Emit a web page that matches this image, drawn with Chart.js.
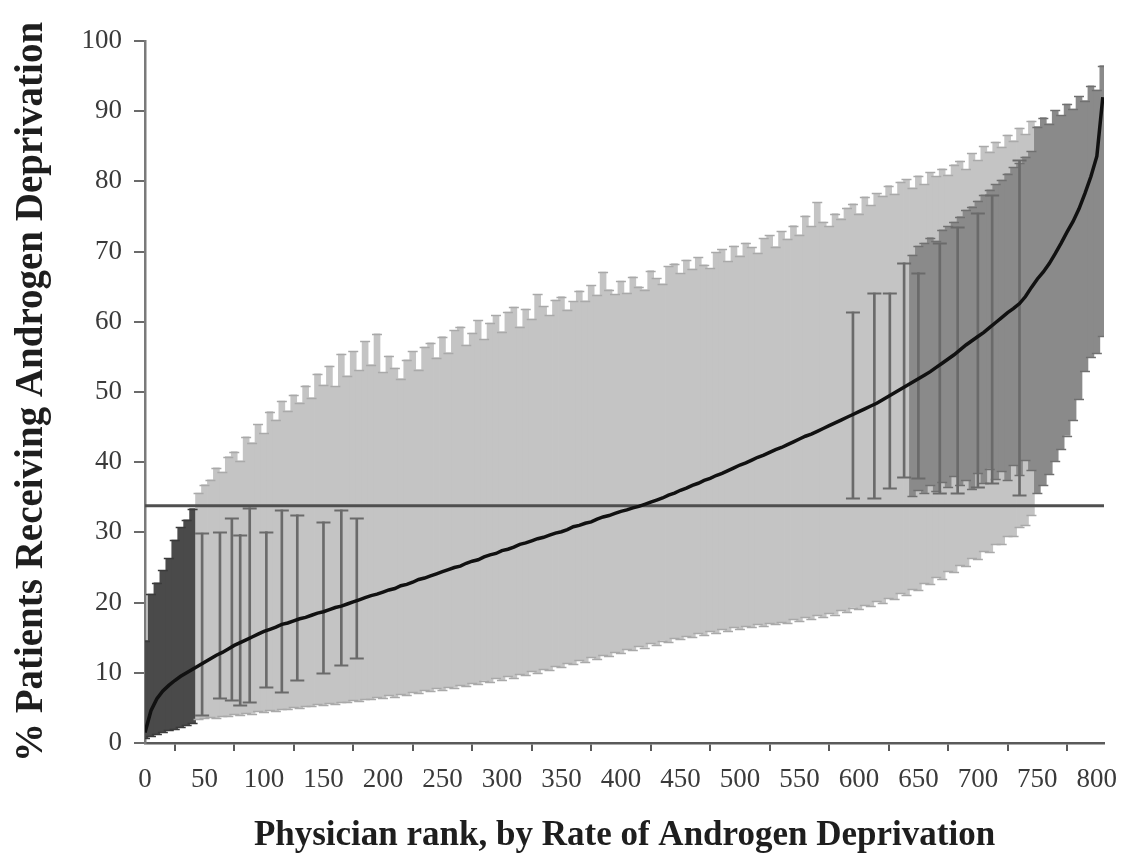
<!DOCTYPE html>
<html>
<head>
  <title>Physician rank by rate of androgen deprivation</title>
  <script src="https://cdn.jsdelivr.net/npm/chart.js"></script>
  <style>
    body { margin: 0; background: #fff; }
    #wrap { width: 1134px; height: 865px; }
  </style>
</head>
<body>
  <div id="wrap"><canvas id="chart" width="1134" height="865"></canvas></div>

  <script>
    // every 5th physician, rank 0..805
    const rankStep = 5;

    const estimate = [
      1.5, 4.6, 6.3, 7.4, 8.2, 8.9, 9.5, 10.0, 10.5, 11.0,
      11.5, 12.0, 12.5, 12.9, 13.4, 13.9, 14.3, 14.7, 15.1, 15.5,
      15.9, 16.2, 16.5, 16.9, 17.1, 17.4, 17.7, 17.9, 18.2, 18.5,
      18.7, 19.0, 19.3, 19.5, 19.8, 20.1, 20.4, 20.7, 21.0, 21.2,
      21.5, 21.8, 22.0, 22.4, 22.6, 22.9, 23.3, 23.5, 23.8, 24.1,
      24.4, 24.7, 25.0, 25.2, 25.6, 25.9, 26.1, 26.5, 26.8, 27.0,
      27.4, 27.6, 27.9, 28.3, 28.5, 28.8, 29.1, 29.3, 29.6, 29.9,
      30.1, 30.4, 30.8, 31.0, 31.3, 31.5, 31.9, 32.2, 32.4, 32.7,
      33.0, 33.2, 33.5, 33.7, 34.0, 34.3, 34.6, 34.9, 35.3, 35.6,
      36.0, 36.3, 36.7, 37.0, 37.4, 37.7, 38.1, 38.4, 38.8, 39.2,
      39.6, 39.9, 40.3, 40.7, 41.0, 41.4, 41.8, 42.1, 42.5, 42.9,
      43.3, 43.7, 44.0, 44.4, 44.8, 45.2, 45.6, 46.0, 46.4, 46.8,
      47.2, 47.6, 48.0, 48.4, 48.9, 49.4, 49.9, 50.4, 50.9, 51.4,
      51.9, 52.4, 52.9, 53.5, 54.1, 54.7, 55.3, 56.0, 56.7, 57.3,
      57.9, 58.5, 59.2, 59.9, 60.6, 61.3, 61.9, 62.6, 63.6, 64.9,
      66.1, 67.1, 68.3, 69.7, 71.2, 72.8, 74.3, 76.1, 78.3, 80.7,
      83.6, 92.0
    ];

    const lower = [
      0.7, 1.0, 1.3, 1.5, 1.8, 2.0, 2.3, 2.5, 2.8, 3.4,
      3.5, 3.7, 3.6, 3.9, 3.8, 4.1, 4.0, 4.3, 4.2, 4.5,
      4.4, 4.7, 4.6, 4.9, 4.8, 5.1, 5.0, 5.3, 5.2, 5.5,
      5.4, 5.7, 5.6, 5.9, 5.8, 6.1, 6.0, 6.3, 6.2, 6.5,
      6.4, 6.8, 6.6, 7.0, 6.9, 7.3, 7.1, 7.5, 7.4, 7.8,
      7.6, 8.0, 7.9, 8.3, 8.1, 8.6, 8.4, 8.9, 8.7, 9.2,
      9.0, 9.5, 9.3, 9.8, 9.7, 10.2, 10.0, 10.6, 10.4, 11.0,
      10.8, 11.4, 11.2, 11.8, 11.6, 12.2, 12.0, 12.6, 12.4, 13.0,
      12.8, 13.4, 13.2, 13.8, 13.6, 14.2, 14.0, 14.6, 14.4, 15.0,
      14.8, 15.3, 15.1, 15.6, 15.4, 15.9, 15.7, 16.2, 16.0, 16.5,
      16.3, 16.7, 16.5, 16.9, 16.7, 17.1, 16.9, 17.3, 17.1, 17.6,
      17.4, 17.9, 17.7, 18.2, 18.0, 18.5, 18.3, 18.9, 18.7, 19.3,
      19.1, 19.7, 19.5, 20.2, 20.0, 20.7, 20.5, 21.3, 21.1, 22.0,
      21.8, 22.8, 22.6, 23.6, 23.4, 24.5, 24.3, 25.4, 25.2, 26.3,
      26.2, 27.3, 27.2, 28.4, 28.3, 29.5, 29.5, 30.8, 31.0, 32.5,
      35.6, 36.8, 38.3, 40.1, 41.9, 43.8, 46.0, 49.0, 53.0, 55.0,
      55.5, 58.0
    ];

    const upper = [
      14.6, 21.2, 22.8, 24.6, 26.3, 28.9, 30.7, 31.8, 33.4, 35.6,
      36.8, 37.5, 39.2, 38.6, 40.8, 41.5, 40.2, 43.6, 42.8, 45.4,
      44.1, 47.2, 46.0, 48.7, 47.3, 49.6, 48.5, 50.9, 49.2, 52.6,
      51.0, 53.7, 50.8, 55.4, 52.3, 55.8, 53.1, 57.2, 53.9, 58.3,
      52.8, 55.1, 53.4, 51.9, 54.6, 55.8, 53.2, 56.4, 57.0, 54.9,
      57.9, 55.6, 58.8, 59.3, 56.7, 58.4, 60.2, 57.5, 59.8, 60.9,
      58.6, 61.4, 62.1, 59.3, 61.8, 60.4, 63.9, 62.2, 60.9, 63.1,
      63.6, 61.7, 62.9, 64.4, 63.0, 65.2, 63.8, 67.1, 64.6, 63.9,
      65.8, 64.1, 66.4, 65.0, 64.6, 67.3, 66.2, 65.4, 67.9, 68.3,
      66.9, 68.8, 67.5, 69.2, 68.1, 67.6, 69.9, 70.3, 68.6, 70.8,
      69.4, 71.2, 70.6, 69.8, 71.9, 72.3, 70.7, 72.9, 71.8, 73.7,
      72.4, 75.1, 73.6, 77.0, 74.2, 73.6, 75.4, 74.7, 76.2, 76.8,
      75.4, 77.8, 76.6, 78.3, 77.9, 79.4, 78.2, 79.9, 80.3, 79.1,
      80.8, 79.6, 81.3, 80.7, 81.8, 80.9, 82.4, 82.9, 81.7, 84.0,
      83.0, 85.0, 84.2, 85.6, 84.9, 86.6, 85.8, 87.6, 86.7, 88.6,
      87.8, 89.1, 88.2, 90.1, 89.4, 91.0, 90.3, 92.1, 91.5, 93.6,
      93.0, 96.5
    ];

    // physicians significantly above the mean, ranks 645..745 (drawn over the others)
    const highRanks = [645, 650, 655, 660, 665, 670, 675, 680, 685, 690, 695,
                       700, 705, 710, 715, 720, 725, 730, 735, 740, 745];
    const highLower = [35.2, 36.0, 35.6, 36.8, 35.9, 37.2, 36.4, 38.0, 36.7, 37.5, 36.2,
                       38.4, 37.0, 39.1, 37.6, 38.8, 37.4, 39.6, 38.2, 40.3, 38.9];
    const highUpper = [69.5, 70.8, 71.2, 72.0, 71.5, 73.1, 73.6, 74.2, 75.0, 75.9, 76.4,
                       77.2, 78.1, 78.8, 79.6, 80.2, 81.1, 82.0, 82.6, 83.5, 84.3];

    // the few physicians whose wide intervals stand out
    const wideRanks = [48, 63, 73, 80, 88, 102, 115, 128, 150, 165, 178,
                       595, 613, 626, 638, 650, 668, 683, 700, 712, 735];
    const wideLower = [4.0, 6.4, 6.1, 5.4, 5.8, 8.0, 7.3, 9.0, 10.0, 11.1, 12.1,
                       34.9, 34.9, 36.3, 37.9, 37.7, 35.6, 35.6, 36.5, 37.0, 35.3];
    const wideUpper = [29.9, 30.0, 32.0, 29.7, 33.5, 30.1, 33.2, 32.5, 31.5, 33.2, 32.0,
                       61.4, 64.1, 64.1, 68.4, 67.0, 71.2, 73.5, 75.5, 78.0, 83.0];

    const overallRate = 33.8;
    const xTicks = [0, 50, 100, 150, 200, 250, 300, 350, 400, 450, 500, 550, 600, 650, 700, 750, 800];

    const ranks = estimate.map((_, i) => i * rankStep);
    const LIGHT = '#c4c4c4', MID = '#8a8a8a', DARK = '#4a4a4a', WIDE = '#6a6a6a';

    function barColor(lo, hi) {
      if (hi < overallRate) return DARK;
      if (lo > overallRate) return MID;
      return LIGHT;
    }
    function capColorFor(c) {
      return c === LIGHT ? '#a9a9a9' : c === MID ? '#707070' : '#3a3a3a';
    }

    // whisker caps, drawn right after each error-bar dataset
    const capPlugin = {
      id: 'caps',
      afterDatasetDraw(chart, args) {
        const ds = chart.data.datasets[args.index];
        if (!ds.capWidth) return;
        const { ctx, chartArea, scales: { x, y } } = chart;
        ctx.save();
        ctx.beginPath();
        ctx.rect(chartArea.left, chartArea.top, chartArea.width, chartArea.height);
        ctx.clip();
        ctx.lineWidth = ds.capLineWidth;
        ds.data.forEach(d => {
          const px = x.getPixelForValue(d.x);
          ctx.strokeStyle = ds.capColor || capColorFor(barColor(d.y[0], d.y[1]));
          d.y.forEach(v => {
            const py = Math.round(y.getPixelForValue(v)) + 0.5;
            ctx.beginPath();
            ctx.moveTo(px - ds.capWidth / 2, py);
            ctx.lineTo(px + ds.capWidth / 2, py);
            ctx.stroke();
          });
        });
        ctx.restore();
      }
    };

    Chart.defaults.font.family = "'Liberation Serif', 'Times New Roman', serif";
    Chart.defaults.color = '#333';

    const ctx = document.getElementById('chart').getContext('2d');
    new Chart(ctx, {
      type: 'bar',
      data: {
        datasets: [
          {
            type: 'line',
            data: ranks.map((r, i) => ({ x: r, y: estimate[i] })),
            borderColor: '#111',
            borderWidth: 3.5,
            pointRadius: 0,
            order: 1,
          },
          {
            type: 'line',
            data: [{ x: 0, y: overallRate }, { x: 806, y: overallRate }],
            borderColor: '#4f4f4f',
            borderWidth: 3,
            pointRadius: 0,
            order: 2,
          },
          {
            data: wideRanks.map((r, i) => ({ x: r, y: [wideLower[i], wideUpper[i]] })),
            backgroundColor: WIDE,
            barThickness: 2,
            grouped: false,
            clip: 0,
            capWidth: 14,
            capLineWidth: 2,
            capColor: WIDE,
            order: 3,
          },
          {
            data: highRanks.map((r, i) => ({ x: r, y: [highLower[i], highUpper[i]] })),
            backgroundColor: MID,
            barThickness: 6,
            grouped: false,
            clip: 0,
            capWidth: 10,
            capLineWidth: 1.5,
            order: 4,
          },
          {
            data: ranks.map((r, i) => ({ x: r, y: [lower[i], upper[i]] })),
            backgroundColor: c => barColor(lower[c.dataIndex], upper[c.dataIndex]),
            barThickness: 6,
            grouped: false,
            clip: 0,
            capWidth: 10,
            capLineWidth: 1.5,
            order: 5,
          },
        ],
      },
      options: {
        responsive: false,
        animation: false,
        layout: { padding: { top: 41, right: 30, left: 0, bottom: 0 } },
        plugins: { legend: { display: false }, tooltip: { enabled: false } },
        scales: {
          x: {
            type: 'linear',
            min: 0,
            max: 806,
            offset: false,
            afterFit: s => { s.height = 122; },
            afterBuildTicks: s => { s.ticks = xTicks.map(v => ({ value: v })); },
            border: { display: true, color: '#5a5a5a', width: 2.5 },
            grid: { drawOnChartArea: false, tickLength: 8, color: '#5a5a5a', lineWidth: 2 },
            ticks: { autoSkip: false, maxRotation: 0, padding: 13, font: { size: 27 }, color: '#3a3a3a' },
            title: {
              display: true,
              text: 'Physician rank, by Rate of Androgen Deprivation',
              font: { size: 35, weight: 'bold' },
              color: '#1e1e1e',
              padding: { top: 0, bottom: 8 },
            },
          },
          y: {
            min: 0,
            max: 100,
            afterFit: s => { s.width = 145; },
            border: { display: true, color: '#7a7a7a', width: 2.5 },
            grid: { drawOnChartArea: false, tickLength: 11, color: '#6a6a6a', lineWidth: 2 },
            ticks: { stepSize: 10, padding: 12, font: { size: 27 }, color: '#3a3a3a' },
            title: {
              display: true,
              text: '% Patients Receiving Androgen Deprivation',
              font: { size: 39, weight: 'bold' },
              color: '#1e1e1e',
              padding: { top: 9, bottom: 0 },
            },
          },
        },
      },
      plugins: [capPlugin],
    });
  </script>
</body>
</html>
